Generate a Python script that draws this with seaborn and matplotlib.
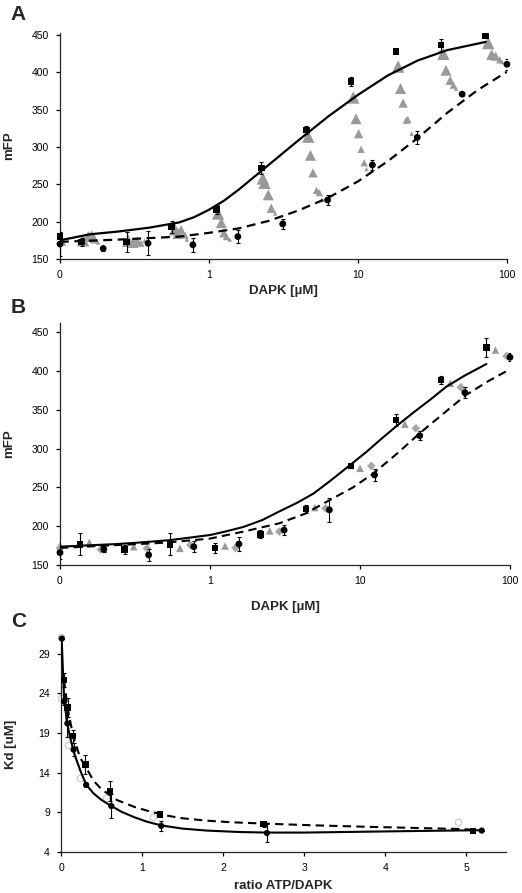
import numpy as np
import matplotlib
matplotlib.use("Agg")
import matplotlib.pyplot as plt
import seaborn as sns

sns.set_style("ticks")
plt.rcParams['font.family'] = ['Liberation Sans', 'DejaVu Sans']

# ---------------- Panel A ----------------
a_sq_x = [0.1, 0.14, 0.28, 0.5625, 1.125, 2.25, 4.5, 9, 18, 36, 72]
a_sq_y = [180, 173, 173, 193, 216, 272, 323, 388, 428, 437, 449]
a_sq_e = [6, 5, 13, 8, 6, 8, 5, 6, 0, 8, 3]
a_ci_x = [0.1, 0.195, 0.39, 0.78, 1.5625, 3.125, 6.25, 12.5, 25, 50, 100]
a_ci_y = [170, 164, 171, 169, 180, 197, 229, 276, 313, 371, 411]
a_ci_e = [16, 3, 16, 9, 9, 7, 7, 7, 9, 2, 7]
a_tri_x = [0.1, 0.143, 0.155, 0.163, 0.17, 0.18,
           0.287, 0.31, 0.33, 0.35, 0.37,
           0.59, 0.62, 0.65, 0.69, 0.71,
           1.15, 1.21, 1.26, 1.31, 1.38,
           2.3, 2.36, 2.5, 2.62, 2.78,
           4.64, 4.8, 4.99, 5.27, 5.5, 5.7,
           9.3, 9.7, 10.1, 10.5, 11, 11.4,
           18.6, 19.3, 20.1, 21.1, 21.6, 22.9,
           37.4, 39, 41.6, 43.7, 45.5,
           74.8, 79, 84, 89.5, 93]
a_tri_y = [176, 175, 180, 181, 177, 172,
           174.5, 172, 174, 171, 174.5,
           189.7, 184, 189, 182, 176,
           211, 198.6, 185, 180, 176,
           258, 252, 236, 218, 211,
           314, 289, 265.5, 242, 239, 229,
           366.5, 338, 318, 297, 279, 270.5,
           408, 378.5, 359, 336, 337, 318,
           425, 403, 389.6, 383, 378.5,
           439.5, 424, 421.8, 417, 414]
a_tri_s = [5, 5, 4, 4, 3, 1,
           5, 4, 3, 2, 1,
           5, 4, 3, 2, 1,
           5, 4, 3, 2, 1,
           5, 5, 4, 3, 1,
           5, 4, 3, 2, 2, 1,
           5, 4, 3, 2, 2, 1,
           5, 4, 3, 2, 2, 1,
           5, 4, 3, 2, 1,
           5, 4, 3, 2, 1]
# fitted curves
a_fit1_x = [0.1, 0.158, 0.251, 0.398, 0.631, 0.794, 1.0, 1.259, 1.585, 2.512, 3.981,
            6.31, 10, 15.85, 25.12, 39.81, 72]
a_fit1_y = [175, 183, 187, 192, 199, 206, 216, 228, 243, 276, 309, 341, 370, 396, 416, 430, 441]
a_fit2_x = [0.1, 0.251, 0.631, 1.0, 1.585, 2.512, 3.981, 6.31, 10, 15.85, 25.12, 39.81, 63.1, 100]
a_fit2_y = [173, 176, 180, 185, 191, 201, 215, 232, 254, 281, 312, 346, 376, 401]

# ---------------- Panel B ----------------
b_sq_x = [0.136, 0.27, 0.54, 1.08, 2.17, 4.35, 8.7, 17.4, 34.8, 69.6]
b_sq_y = [176.6, 170, 176.6, 172, 189.5, 222, 277.5, 336.7, 388, 430]
b_sq_e = [14, 6, 14, 6, 5, 5, 2, 8, 5, 12]
b_ci_x = [0.1, 0.196, 0.39, 0.78, 1.56, 3.12, 6.25, 12.5, 25, 50, 100]
b_ci_y = [166, 170, 163, 173.6, 177, 195, 221, 266, 316.5, 372, 417.4]
b_ci_e = [8, 3, 8, 7, 9, 6, 15, 8, 6, 7, 5]
b_tri_x = [0.1, 0.157, 0.31, 0.63, 1.26, 2.5, 5.0, 10, 19.9, 40, 80]
b_tri_y = [175, 179, 173.6, 171.5, 174.5, 194, 224, 274.5, 331.5, 384, 426.8]
b_dia_x = [0.1, 0.187, 0.38, 0.74, 1.48, 2.9, 5.9, 11.9, 23.6, 47, 95]
b_dia_y = [172, 170, 171.5, 175.8, 172, 193, 223, 277.5, 326, 378.8, 419]
b_fit1_x = [0.1, 0.24, 0.316, 0.54, 1.0, 1.26, 1.67, 2.24, 2.9, 3.8, 4.9, 6.3, 8.5, 11.1,
            13.6, 17.8, 22.6, 29, 37.9, 50, 69.6]
b_fit1_y = [173.6, 177, 178.5, 182, 188.6, 193, 199, 208, 219, 230, 242, 258, 278, 296,
            311, 330, 346, 362, 380, 394, 408.8]
b_fit2_x = [0.1, 0.5, 1.0, 1.67, 2.9, 4.3, 6.3, 9.0, 12.3, 17.8, 25, 36, 51, 72, 100]
b_fit2_y = [172, 178.7, 184, 193, 203.7, 216, 233.7, 250, 268, 294, 319.6, 345, 369, 387, 402]

# ---------------- Panel C ----------------
c_ci_x = [0.0097, 0.039, 0.078, 0.155, 0.31, 0.62, 1.235, 2.54, 5.19]
c_ci_y = [30.9, 22.95, 20.2, 16.9, 12.45, 9.8, 7.3, 6.4, 6.7]
c_ci_e = [0.0, 0.4, 1.7, 0.8, 0.2, 1.5, 0.6, 1.2, 0.1]
c_sq_x = [0.037, 0.08, 0.15, 0.30, 0.605, 1.22, 2.5, 5.08]
c_sq_y = [25.7, 22.2, 18.6, 15.05, 11.7, 8.7, 7.5, 6.65]
c_sq_e = [0.9, 1.2, 0.8, 1.2, 1.3, 0.3, 0.3, 0.2]
c_op_x = [0.0, 0.0, 0.09, 0.235, 0.555, 1.14, 4.9]
c_op_y = [31.05, 23.4, 17.5, 13.3, 10.75, 8.4, 7.8]
c_fit1_x = [0.008, 0.02, 0.037, 0.07, 0.11, 0.17, 0.24, 0.31, 0.4, 0.5, 0.62, 0.75, 0.9,
            1.05, 1.235, 1.5, 1.8, 2.2, 2.54, 3.0, 3.69, 4.4, 5.2]
c_fit1_y = [30.95, 27.8, 23.6, 20.6, 18.5, 16.2, 14.2, 12.5, 11.4, 10.55, 9.8, 9.05, 8.4,
            7.85, 7.35, 6.95, 6.7, 6.52, 6.45, 6.45, 6.55, 6.65, 6.75]
c_fit2_x = [0.037, 0.08, 0.15, 0.235, 0.3, 0.4, 0.5, 0.69, 0.9, 1.1, 1.3, 1.5, 1.8, 2.1,
            2.46, 3.0, 3.69, 4.3, 4.93, 5.1]
c_fit2_y = [25.7, 22.2, 18.6, 15.9, 14.8, 13.0, 11.9, 10.55, 9.7, 9.1, 8.6, 8.25, 7.95, 7.75,
            7.6, 7.4, 7.2, 7.05, 6.9, 6.8]

fig = plt.figure(figsize=(5.22, 8.93), dpi=100)
axA = fig.add_axes([0.1149, 0.7100, 0.8563, 0.2531])
axB = fig.add_axes([0.1149, 0.3673, 0.8621, 0.2710])
axC = fig.add_axes([0.1169, 0.0459, 0.8525, 0.2408])

err_kw = dict(fmt='none', ecolor='black', elinewidth=0.8, capsize=1.6, capthick=0.8, zorder=4)
dash = (0, (4, 2.5))

# A
sns.scatterplot(x=a_tri_x, y=a_tri_y, size=a_tri_s, sizes=(10, 80), marker='^',
                color='#9a9a9a', edgecolor='none', legend=False, ax=axA, zorder=2)
sns.lineplot(x=a_fit1_x, y=a_fit1_y, color='black', lw=1.6, sort=False, ax=axA, zorder=3)
sns.lineplot(x=a_fit2_x, y=a_fit2_y, color='black', lw=1.6, linestyle=dash, sort=False, ax=axA, zorder=3)
axA.errorbar(a_sq_x, a_sq_y, yerr=a_sq_e, **err_kw)
axA.errorbar(a_ci_x, a_ci_y, yerr=a_ci_e, **err_kw)
sns.scatterplot(x=a_sq_x, y=a_sq_y, marker='s', s=22, color='black', edgecolor='none', ax=axA, zorder=5, clip_on=False)
sns.scatterplot(x=a_ci_x, y=a_ci_y, marker='o', s=24, color='black', edgecolor='none', ax=axA, zorder=5, clip_on=False)

# B
sns.lineplot(x=b_fit1_x, y=b_fit1_y, color='black', lw=1.5, sort=False, ax=axB, zorder=3)
sns.lineplot(x=b_fit2_x, y=b_fit2_y, color='black', lw=1.5, linestyle=dash, sort=False, ax=axB, zorder=3)
sns.scatterplot(x=b_tri_x, y=b_tri_y, marker='^', s=30, color='#9a9a9a', edgecolor='none', ax=axB, zorder=2, clip_on=False)
sns.scatterplot(x=b_dia_x, y=b_dia_y, marker='D', s=20, color='#a8a8a8', edgecolor='none', ax=axB, zorder=2, clip_on=False)
axB.errorbar(b_sq_x, b_sq_y, yerr=b_sq_e, **err_kw)
axB.errorbar(b_ci_x, b_ci_y, yerr=b_ci_e, **err_kw)
sns.scatterplot(x=b_sq_x, y=b_sq_y, marker='s', s=22, color='black', edgecolor='none', ax=axB, zorder=5, clip_on=False)
sns.scatterplot(x=b_ci_x, y=b_ci_y, marker='o', s=24, color='black', edgecolor='none', ax=axB, zorder=5, clip_on=False)

for ax, top in ((axA, 453), (axB, 461.6)):
    ax.set_xscale('log')
    ax.set_xlim(0.1, 100)
    ax.set_ylim(150, top)
    ax.set_xticks([0.1, 1, 10, 100])
    ax.set_xticklabels(['0', '1', '10', '100'])
    ax.xaxis.set_minor_locator(matplotlib.ticker.NullLocator())
    ax.set_yticks([150, 200, 250, 300, 350, 400, 450])
    ax.set_ylabel('mFP', fontsize=9.5, fontweight='bold')
    ax.set_xlabel('DAPK [µM]', fontsize=9.5, fontweight='bold')
    ax.yaxis.set_label_coords(-0.10, 0.5)
axA.xaxis.set_label_coords(0.5, -0.115)
axB.xaxis.set_label_coords(0.5, -0.15)

# C
sns.lineplot(x=c_fit1_x, y=c_fit1_y, color='black', lw=1.5, sort=False, ax=axC, zorder=3)
sns.lineplot(x=c_fit2_x, y=c_fit2_y, color='black', lw=1.5, linestyle=dash, sort=False, ax=axC, zorder=3)
sns.scatterplot(x=c_op_x, y=c_op_y, marker='o', s=22, color='white', edgecolor='#c8c8c8', linewidth=0.8,
                ax=axC, zorder=2, clip_on=False)
axC.errorbar(c_sq_x, c_sq_y, yerr=c_sq_e, **err_kw)
axC.errorbar(c_ci_x, c_ci_y, yerr=c_ci_e, **err_kw)
sns.scatterplot(x=c_sq_x, y=c_sq_y, marker='s', s=22, color='black', edgecolor='none', ax=axC, zorder=5, clip_on=False)
sns.scatterplot(x=c_ci_x, y=c_ci_y, marker='o', s=20, color='black', edgecolor='none', ax=axC, zorder=5, clip_on=False)
axC.set_xlim(0, 5.49)
axC.set_ylim(4, 31.1)
axC.set_xticks([0, 1, 2, 3, 4, 5])
axC.set_yticks([4, 9, 14, 19, 24, 29])
axC.set_ylabel('Kd [uM]', fontsize=9.5, fontweight='bold')
axC.set_xlabel('ratio ATP/DAPK', fontsize=9.5, fontweight='bold')
axC.yaxis.set_label_coords(-0.10, 0.5)
axC.xaxis.set_label_coords(0.5, -0.13)

for ax in (axA, axB, axC):
    sns.despine(ax=ax)
    ax.spines['left'].set_linewidth(0.9)
    ax.spines['bottom'].set_linewidth(0.9)
    ax.tick_params(axis='both', direction='out', length=3, width=0.9, labelsize=7.5, pad=5, colors='black')

for label, y in (('A', 0.984), ('B', 0.656), ('C', 0.3035)):
    fig.text(0.035, y, label, fontsize=15, fontweight='bold', ha='center', va='center')

fig.savefig('out.png', dpi=100)
